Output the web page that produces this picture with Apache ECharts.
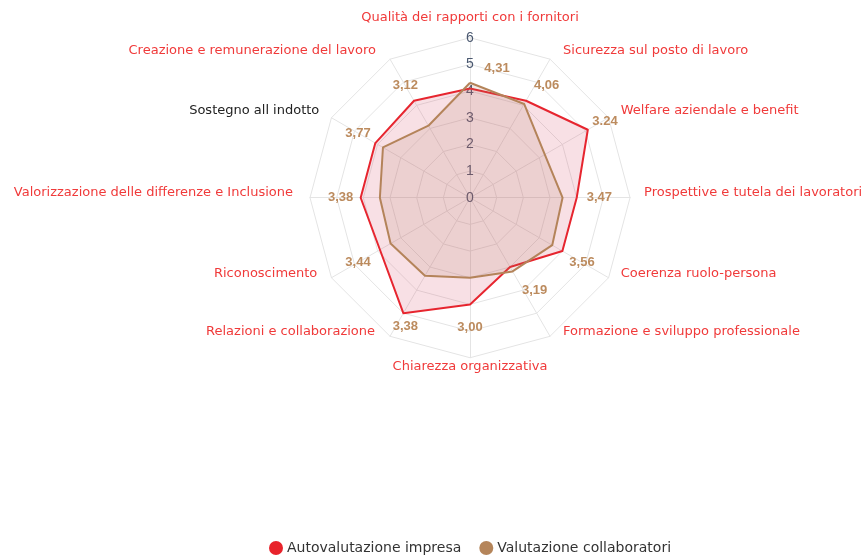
<!DOCTYPE html>
<html>
<head>
<meta charset="utf-8">
<script src="https://cdn.jsdelivr.net/npm/echarts@6/dist/echarts.min.js"></script>
<style>
  html, body { margin: 0; padding: 0; background: #fff; }
  #main { width: 864px; height: 557px; }
</style>
</head>
<body>
<div id="main"></div>
<script>
// indicators, counter-clockwise starting from the top
var indicatorNames = [
  'Qualità dei rapporti con i fornitori',
  'Creazione e remunerazione del lavoro',
  'Sostegno all indotto',
  'Valorizzazione delle differenze e Inclusione',
  'Riconoscimento',
  'Relazioni e collaborazione',
  'Chiarezza organizzativa',
  'Formazione e sviluppo professionale',
  'Coerenza ruolo-persona',
  'Prospettive e tutela dei lavoratori',
  'Welfare aziendale e benefit',
  'Sicurezza sul posto di lavoro'
];
var autovalutazione = [4.1, 4.2, 4.1, 4.1, 3.9, 5.0, 4.0, 3.0, 4.0, 4.0, 5.1, 4.2];
var collaboratori = [4.31, 3.12, 3.77, 3.38, 3.44, 3.38, 3.00, 3.19, 3.56, 3.47, 3.24, 4.06];
var collaboratoriLabels = ['4,31', '3,12', '3,77', '3,38', '3,44', '3,38', '3,00', '3,19', '3,56', '3,47', '3.24', '4,06'];
var seriesNames = ['Autovalutazione impresa', 'Valutazione collaboratori'];

var myChart = echarts.init(document.getElementById('main'));

var labelRing = 4.85; // where the value labels sit
var nameRed = '#F03A3A';
var labelBrown = '#BC8B5E';

// small nudges of the indicator names (padding: top, right, bottom, left)
var namePadding = [
  null, [8, 7, 0, 0], null, [0, 3, 10, 0], [0, 2, 22, 0], [0, 8, 34, 0],
  null, [0, 0, 34, 6], [0, 0, 22, 0], [0, 0, 10, 0], null, [8, 0, 0, 6]
];
var nameRich = {};
namePadding.forEach(function (p, i) {
  if (p) nameRich['p' + i] = { color: nameRed, fontSize: 13, padding: p };
});

// same for the value labels
var labelPadding = [
  [0, 0, 0, 54], null, null, null, null, [34, 0, 0, 0],
  null, [0, 0, 38, 0], null, null, [0, 0, 24, 46], [0, 0, 0, 24]
];
var labelRich = {};
labelPadding.forEach(function (p, i) {
  if (p) labelRich['l' + i] = {
    color: labelBrown,
    fontFamily: 'Liberation Sans, Arial, sans-serif',
    fontWeight: 'bold',
    fontSize: 13,
    padding: p
  };
});

var option = {
  color: ['#E8232B', '#B5855A'],
  textStyle: { fontFamily: 'DejaVu Sans, Arial, sans-serif' },
  legend: {
    data: seriesNames,
    top: 536,
    left: 264,
    icon: 'circle',
    itemWidth: 14,
    itemHeight: 14,
    itemGap: 18,
    itemStyle: { borderWidth: 0 },
    textStyle: { fontSize: 14, color: '#333', padding: [0, 0, 0, -1] }
  },
  radar: {
    center: ['54.4%', '35.5%'],
    radius: 160,
    startAngle: 90,
    splitNumber: 6,
    shape: 'polygon',
    nameGap: 14,
    axisName: {
      fontSize: 13,
      color: nameRed,
      rich: nameRich,
      formatter: function (name) {
        var i = indicatorNames.indexOf(name);
        return namePadding[i] ? '{p' + i + '|' + name + '}' : name;
      }
    },
    indicator: indicatorNames.map(function (n, i) {
      var ind = { name: n, min: 0, max: 6 };
      if (n === 'Sostegno all indotto') ind.color = '#222';
      if (i === 0) ind.axisLabel = { show: true };
      if (n === 'Chiarezza organizzativa') ind.nameGap = 2;
      return ind;
    }),
    axisLabel: {
      show: false,
      color: '#4a5870',
      fontFamily: 'Liberation Sans, Arial, sans-serif',
      fontSize: 14,
      margin: 0,
      align: 'center'
    },
    splitLine: { lineStyle: { color: '#e4e4e4', width: 1 } },
    splitArea: { show: false },
    axisLine: { lineStyle: { color: '#e4e4e4' } }
  },
  series: [
    {
      type: 'radar',
      symbol: 'none',
      data: [
        {
          name: seriesNames[0],
          value: autovalutazione,
          lineStyle: { color: '#E8232B', width: 2 },
          areaStyle: { color: 'rgba(215, 70, 100, 0.24)' }
        },
        {
          name: seriesNames[1],
          value: collaboratori,
          lineStyle: { color: '#B5855A', width: 2 },
          areaStyle: { color: 'rgba(170, 120, 90, 0.22)' }
        }
      ]
    },
    {
      // only carries the value labels
      type: 'radar',
      silent: true,
      symbol: 'circle',
      symbolSize: 1,
      itemStyle: { color: 'rgba(0,0,0,0)' },
      lineStyle: { width: 0, opacity: 0 },
      label: {
        show: true,
        position: 'inside',
        color: labelBrown,
        fontFamily: 'Liberation Sans, Arial, sans-serif',
        fontWeight: 'bold',
        fontSize: 13,
        formatter: function (p) {
          var i = p.dimensionIndex;
          var t = collaboratoriLabels[i];
          return labelPadding[i] ? '{l' + i + '|' + t + '}' : t;
        },
        rich: labelRich
      },
      data: [{ name: 'labels', value: indicatorNames.map(function () { return labelRing; }) }]
    }
  ]
};

myChart.setOption(option);
</script>
</body>
</html>
